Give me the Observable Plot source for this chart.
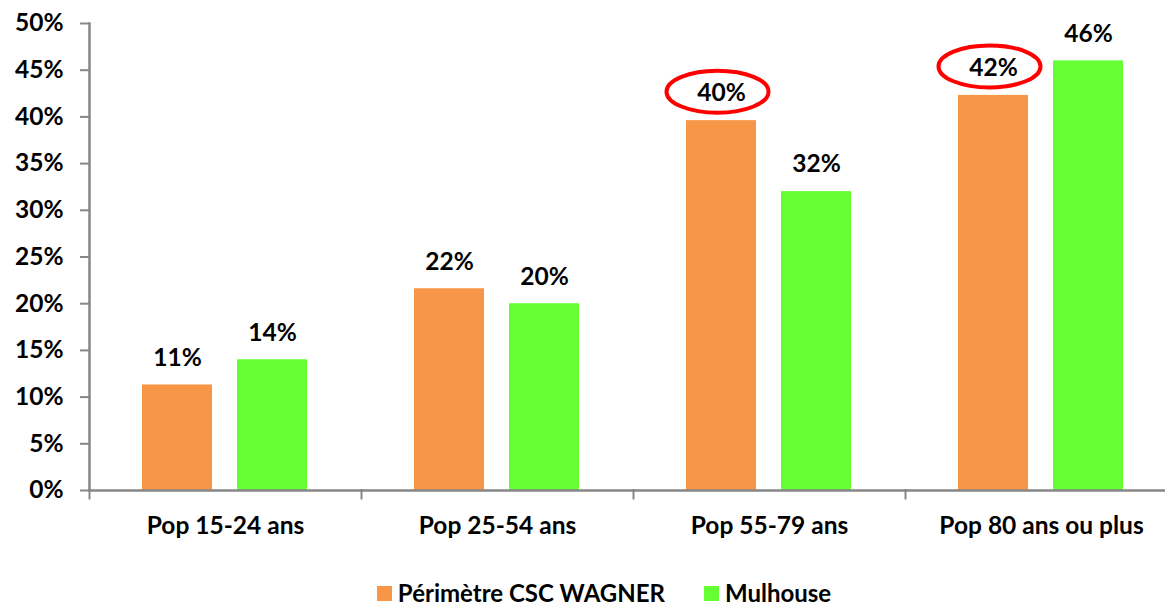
<!DOCTYPE html>
<html>
<head>
<meta charset="utf-8">
<script src="https://cdn.jsdelivr.net/npm/d3@7"></script>
<script src="https://cdn.jsdelivr.net/npm/@observablehq/plot@0.6"></script>
<style>
  html, body { margin: 0; padding: 0; background: #fff; overflow: hidden; }
  #chart { width: 1165px; overflow: hidden; }
  #legend { display: flex; justify-content: center; align-items: center; gap: 39px;
    font-family: Lato, "Open Sans", sans-serif; font-weight: 700; font-size: 24px; color: #000;
    height: 28px; width: 1165px; box-sizing: border-box; padding-left: 43px; }
  #legend .item { display: flex; align-items: center; gap: 6px; }
  #legend .sw { width: 15px; height: 15px; display: inline-block; margin-top: 3px; }
</style>
</head>
<body>
<div id="chart"></div>
<div id="legend"></div>
<script>
const categories = ["Pop 15-24 ans", "Pop 25-54 ans", "Pop 55-79 ans", "Pop 80 ans ou plus"];
const series = ["Périmètre CSC WAGNER", "Mulhouse"];
const perimetreValues = [0.113, 0.216, 0.396, 0.423];
const mulhouseValues = [0.140, 0.200, 0.320, 0.460];
const labelValues = [["11%", "22%", "40%", "42%"], ["14%", "20%", "32%", "46%"]];
const highlighted = ["Pop 55-79 ans", "Pop 80 ans ou plus"];
const yTicks = [0, 0.05, 0.10, 0.15, 0.20, 0.25, 0.30, 0.35, 0.40, 0.45, 0.50];
const colors = ["#F79646", "#66FF33"];

const rows = [];
categories.forEach((c, i) => {
  rows.push({category: c, series: series[0], value: perimetreValues[i], label: labelValues[0][i]});
  rows.push({category: c, series: series[1], value: mulhouseValues[i], label: labelValues[1][i]});
});
const rings = rows.filter(d => d.series === series[0] && highlighted.includes(d.category));

const ellipse = {
  draw(ctx) {
    const rx = 51, ry = 21, kx = rx * 0.5523, ky = ry * 0.5523;
    ctx.moveTo(rx, 0);
    ctx.bezierCurveTo(rx, ky, kx, ry, 0, ry);
    ctx.bezierCurveTo(-kx, ry, -rx, ky, -rx, 0);
    ctx.bezierCurveTo(-rx, -ky, -kx, -ry, 0, -ry);
    ctx.bezierCurveTo(kx, -ry, rx, -ky, rx, 0);
    ctx.closePath();
  }
};

const H = 578, MT = 23, MB = H - 490;
const axisGray = "#868686";
const FS = 24.5;

const plot = Plot.plot({
  width: 1165,
  height: H,
  marginTop: MT,
  marginBottom: MB,
  marginLeft: 88,
  marginRight: -13,
  style: {fontFamily: "Lato, 'Open Sans', sans-serif", fontWeight: 700, fontSize: FS + "px", color: "#000", background: "#fff", overflow: "visible"},
  fx: {domain: categories, padding: 0, label: null},
  x: {domain: series, paddingInner: 25 / 96, paddingOuter: 0.549, axis: null},
  y: {domain: [0, 0.5], label: null},
  color: {domain: series, range: colors},
  marks: [
    Plot.barY(rows, {fx: "category", x: "series", y: "value", fill: "series"}),
    Plot.frame({anchor: "bottom", stroke: axisGray, strokeWidth: 2.5}),
    Plot.frame({anchor: "left", facetAnchor: "left", stroke: axisGray, strokeWidth: 2.5}),
    Plot.frame({anchor: "left", stroke: axisGray, strokeWidth: 2, insetTop: H - MT - MB, insetBottom: -8}),
    Plot.frame({anchor: "right", facetAnchor: "right", stroke: axisGray, strokeWidth: 2, insetTop: H - MT - MB, insetBottom: -8}),
    Plot.axisY({ticks: yTicks, tickFormat: d3.format(".0%"), tickSize: 9, tickPadding: 17, stroke: axisGray, strokeWidth: 2, fill: "#000", fontSize: FS, fontWeight: 700, label: null}),
    Plot.axisFx({anchor: "bottom", tickSize: 0, tickPadding: 26, fontSize: FS, fontWeight: 700, fill: "#000", label: null}),
    Plot.text(rows, {fx: "category", x: "series", y: "value", text: "label", dy: -27, fontSize: FS, fontWeight: 700, fill: "#000"}),
    Plot.dot(rings, {fx: "category", x: "series", y: "value", dy: -29, dx: -4, symbol: ellipse, stroke: "#FF0000", strokeWidth: 4, fill: "none"})
  ]
});
document.getElementById("chart").append(plot);

const legend = document.getElementById("legend");
series.forEach((s, i) => {
  const item = document.createElement("div");
  item.className = "item";
  const sw = document.createElement("span");
  sw.className = "sw";
  sw.style.background = colors[i];
  const t = document.createElement("span");
  t.textContent = s;
  item.append(sw, t);
  legend.append(item);
});
</script>
</body>
</html>
